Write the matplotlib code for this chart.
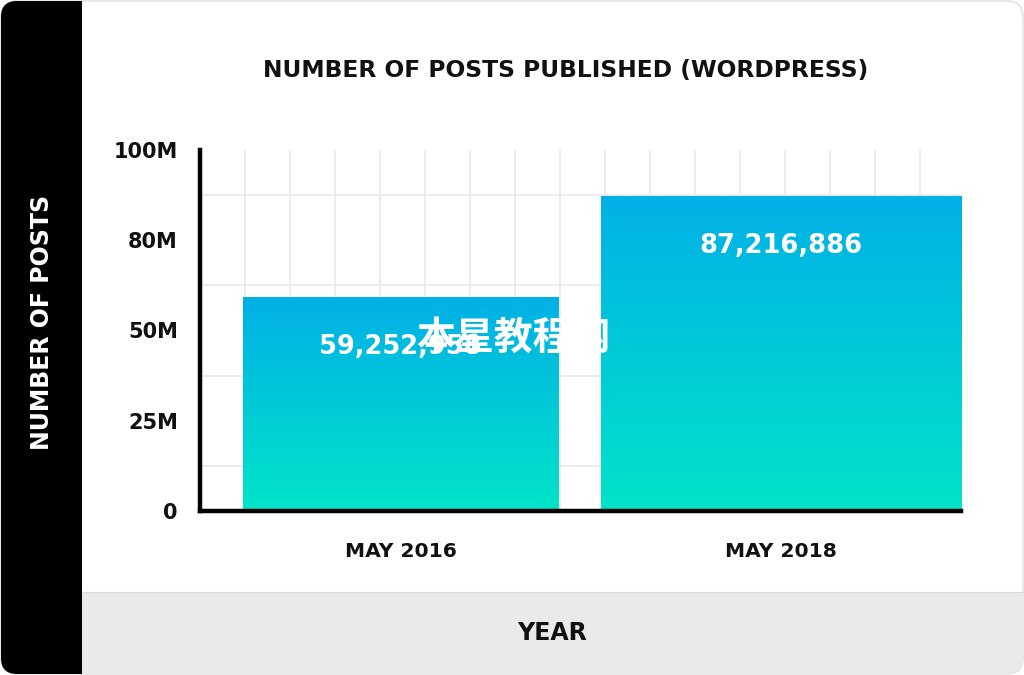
import matplotlib.pyplot as plt
import numpy as np
from matplotlib.colors import LinearSegmentedColormap
from matplotlib.patches import FancyBboxPatch, Rectangle

# data
categories = ['MAY 2016', 'MAY 2018']
posts_m = [59.252958, 87.216886]
value_labels = ['59,252,958', '87,216,886']
ytick_values = [0, 25, 50, 75, 100]
ytick_labels = ['0', '25M', '50M', '80M', '100M']

title = 'NUMBER OF POSTS PUBLISHED (WORDPRESS)'
ylabel = 'NUMBER OF POSTS'
xlabel = 'YEAR'
watermark = '本星教程网'

plt.rcParams['font.family'] = ['DejaVu Sans']

W, H = 1024, 675
fig = plt.figure(figsize=(W / 100, H / 100), dpi=100)
fig.patch.set_facecolor('white')

# background / decoration axes in pixel coords
bg = fig.add_axes([0, 0, 1, 1])
bg.set_xlim(0, W)
bg.set_ylim(H, 0)
bg.axis('off')
card = FancyBboxPatch((1, 1), W - 2, H - 2, boxstyle='round,pad=0,rounding_size=16',
                      facecolor='white', edgecolor='#e4e4e4', lw=1.2)
bg.add_patch(card)
band = Rectangle((0, 0), 82, H, facecolor='black', edgecolor='none')
bg.add_patch(band)
band.set_clip_path(card)
foot = Rectangle((82, 592), W - 82, H - 592, facecolor='#eaeaea', edgecolor='none')
bg.add_patch(foot)
foot.set_clip_path(card)
bg.plot([82, W], [592, 592], color='#dcdcdc', lw=0.8)

bg.text(566, 70, title, ha='center', va='center', fontsize=16.8, fontweight='bold', color='#111111')
bg.text(42, 322, ylabel, ha='center', va='center', rotation=90, fontsize=17,
        fontweight='bold', color='white')
bg.text(552, 633, xlabel, ha='center', va='center', fontsize=17, fontweight='bold', color='#111111')

# main chart
ax = fig.add_axes([200 / W, 1 - 511 / H, 761 / W, 361 / H])
ax.set_facecolor('none')

centers = [4.46, 12.91]
widths = [7.0, 8.0]
cmap = LinearSegmentedColormap.from_list('grad', ['#00e4c8', '#00b0e6'])
grad = np.linspace(0, 1, 256).reshape(-1, 1)

bars = ax.bar(centers, posts_m, width=widths, facecolor='none', edgecolor='none', zorder=2)
for b, v, lab in zip(bars, posts_m, value_labels):
    x0 = b.get_x()
    x1 = x0 + b.get_width()
    im = ax.imshow(grad, cmap=cmap, origin='lower', aspect='auto',
                   extent=(x0, x1, 0, v), zorder=2)
    im.set_clip_path(b)
    ax.text((x0 + x1) / 2, v - 13.7, lab, ha='center', va='center', color='white',
            fontsize=18.5, fontweight='bold', zorder=4)
ax.set_xlim(0, 16.91)
ax.set_ylim(0, 100)

ax.set_yticks(ytick_values)
ax.set_yticklabels(ytick_labels)
ax.set_yticks(np.arange(0, 100.1, 12.5), minor=True)
ax.set_xticks(centers)
ax.set_xticklabels(categories)
ax.set_xticks(np.arange(1, 17), minor=True)
ax.grid(True, which='minor', color='#ebebeb', lw=1.3, zorder=0)
ax.set_axisbelow(True)
ax.tick_params(which='both', length=0)
ax.tick_params(axis='y', pad=16, labelsize=15)
ax.tick_params(axis='x', pad=22, labelsize=14.6)
for t in ax.get_xticklabels() + ax.get_yticklabels():
    t.set_fontweight('bold')
    t.set_color('#111111')

for s in ['top', 'right']:
    ax.spines[s].set_visible(False)
for s in ['left', 'bottom']:
    ax.spines[s].set_linewidth(3.2)
    ax.spines[s].set_color('black')
    ax.spines[s].set_zorder(5)

# watermark overlaid on the image
fig.text(513 / W, 1 - 338 / H, watermark, ha='center', va='center', fontsize=28,
         fontweight='bold', color='white', family=['Noto Sans CJK SC', 'DejaVu Sans'],
         zorder=10)

fig.savefig('out.png', dpi=100)
